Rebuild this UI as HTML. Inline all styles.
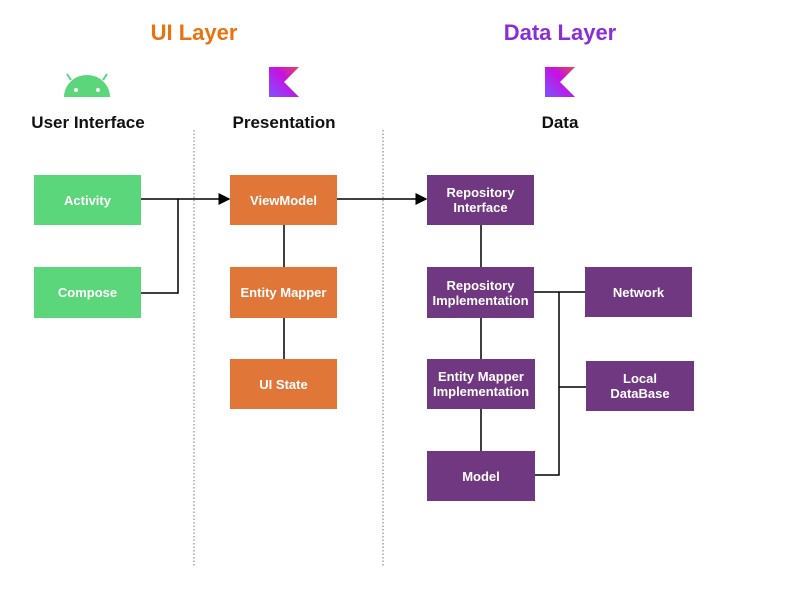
<!DOCTYPE html>
<html><head><style>
body{margin:0;background:#fff;width:788px;height:594px;position:relative;overflow:hidden;font-family:"Liberation Sans",sans-serif}
.b{position:absolute;display:flex;align-items:center;justify-content:center;text-align:center;color:#fff;font-weight:bold;font-size:13px;line-height:15px}
.g{background:#5bd67b}.o{background:#e07638}.p{background:#713882}
.t{position:absolute;font-weight:bold;text-align:center}
</style></head><body>
<div class="t" style="left:94px;width:200px;top:20px;font-size:22px;color:#e8730f">UI Layer</div>
<div class="t" style="left:460px;width:200px;top:20px;font-size:22px;color:#8a2fd6">Data Layer</div>
<div class="t" style="left:8px;width:160px;top:113px;font-size:17px;color:#111">User Interface</div>
<div class="t" style="left:204px;width:160px;top:113px;font-size:17px;color:#111">Presentation</div>
<div class="t" style="left:480px;width:160px;top:113px;font-size:17px;color:#111">Data</div>
<svg width="788" height="594" style="position:absolute;left:0;top:0">
<defs>
<linearGradient id="k" x1="0" y1="1" x2="1" y2="0"><stop offset="0" stop-color="#7f52ff"/><stop offset="0.6" stop-color="#c711e1"/><stop offset="1" stop-color="#e44857"/></linearGradient>
<marker id="a" markerWidth="8" markerHeight="8" refX="7" refY="4" orient="auto"><path d="M0,0L8,4L0,8z" fill="#000"/></marker>
</defs>
<path d="M64,97 A23,22 0 0 1 110,97 Z" fill="#5bd67b"/>
<line x1="71" y1="80" x2="67" y2="74" stroke="#5bd67b" stroke-width="2"/>
<line x1="103" y1="80" x2="107" y2="74" stroke="#5bd67b" stroke-width="2"/>
<circle cx="76" cy="90" r="2" fill="#fff"/><circle cx="98" cy="90" r="2" fill="#fff"/>
<path d="M269,67H299L284,82L299,97H269Z" fill="url(#k)"/>
<path d="M545,67H575L560,82L575,97H545Z" fill="url(#k)"/>
<line x1="194" y1="130" x2="194" y2="567" stroke="#777" stroke-dasharray="1.5,2"/>
<line x1="383" y1="130" x2="383" y2="567" stroke="#777" stroke-dasharray="1.5,2"/>
<g stroke="#000" stroke-width="1.5" fill="none">
<path d="M141,199H178V293H141"/>
<line x1="178" y1="199" x2="229" y2="199" marker-end="url(#a)"/>
<line x1="337" y1="199" x2="426" y2="199" marker-end="url(#a)"/>
<path d="M284,225V267M284,318V359M481,225V267M481,318V359M481,409V451"/>
<path d="M534,292H585M559,292V475H535M559,387H586"/>
</g>
</svg>
<div class="b g" style="left:34px;top:175px;width:107px;height:50px">Activity</div>
<div class="b g" style="left:34px;top:267px;width:107px;height:51px">Compose</div>
<div class="b o" style="left:230px;top:175px;width:107px;height:50px">ViewModel</div>
<div class="b o" style="left:230px;top:267px;width:107px;height:51px">Entity Mapper</div>
<div class="b o" style="left:230px;top:359px;width:107px;height:50px">UI State</div>
<div class="b p" style="left:427px;top:175px;width:107px;height:50px">Repository<br>Interface</div>
<div class="b p" style="left:427px;top:267px;width:107px;height:51px">Repository<br>Implementation</div>
<div class="b p" style="left:427px;top:359px;width:108px;height:50px">Entity Mapper<br>Implementation</div>
<div class="b p" style="left:427px;top:451px;width:108px;height:50px">Model</div>
<div class="b p" style="left:585px;top:267px;width:107px;height:50px">Network</div>
<div class="b p" style="left:586px;top:361px;width:108px;height:50px">Local<br>DataBase</div>
</body></html>
